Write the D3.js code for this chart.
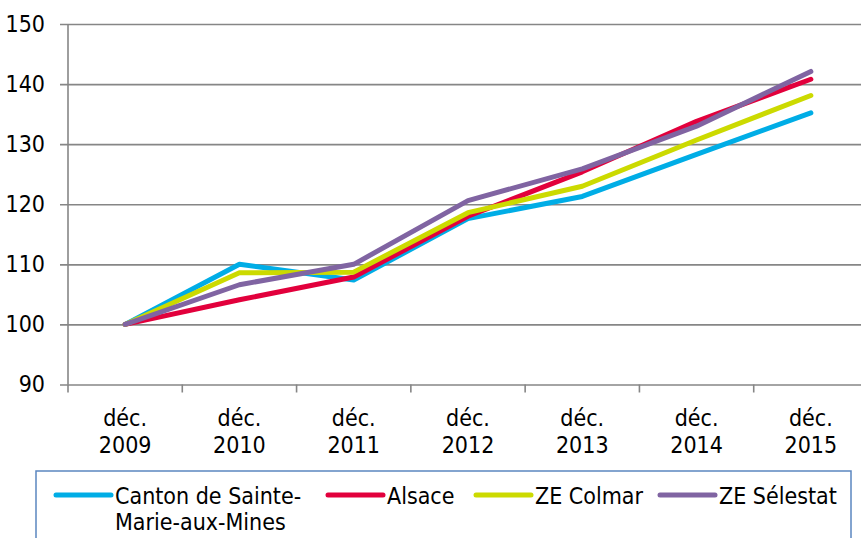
<!DOCTYPE html>
<html>
<head>
<meta charset="utf-8">
<script src="https://cdn.jsdelivr.net/npm/d3@7"></script>
<style>
  body { margin: 0; background: #fff; }
  text { font-family: "DejaVu Sans Condensed", "DejaVu Sans", sans-serif; fill: #000; }
</style>
</head>
<body>
<script>
// categories and series (index, base 100 = déc. 2009)
var months = ["déc.", "déc.", "déc.", "déc.", "déc.", "déc.", "déc."];
var years = ["2009", "2010", "2011", "2012", "2013", "2014", "2015"];
var canton = [100, 110.0, 107.4, 117.6, 121.3, 128.3, 135.2];
var alsace = [100, 104.1, 107.9, 118.0, 125.4, 133.8, 140.8];
var colmar = [100, 108.6, 108.7, 118.6, 123.0, 130.7, 138.1];
var selestat = [100, 106.6, 110.0, 120.6, 125.9, 133.0, 142.1];
var seriesNames = ["Canton de Sainte-|Marie-aux-Mines", "Alsace", "ZE Colmar", "ZE Sélestat"];
var yTicks = [90, 100, 110, 120, 130, 140, 150];

var colors = ["#00ADE6", "#E2003C", "#CCDA00", "#8064A2"];
var series = [canton, alsace, colmar, selestat];

var W = 861, H = 538;
var margin = {top: 24, left: 68},
    w = 800,
    h = 360.5;

var svg = d3.select("body").append("svg")
    .attr("width", W)
    .attr("height", H);

var x = d3.scaleBand().domain(years).range([margin.left, margin.left + w]).padding(0);
var y = d3.scaleLinear().domain([90, 150]).range([margin.top + h, margin.top]);

// gridlines + y labels
var yAxis = d3.axisLeft(y).tickValues(yTicks).tickSizeInner(-(w + 8)).tickSizeOuter(0).tickPadding(15);
var gy = svg.append("g")
    .attr("transform", "translate(" + (margin.left - 8) + ",0)")
    .call(yAxis);
gy.select(".domain").remove();
gy.selectAll("line").attr("stroke", "#868686").attr("stroke-width", 1.6);
gy.selectAll("text")
    .style("font-size", "23px")
    .style("font-family", "'DejaVu Sans Condensed', sans-serif")
    .attr("fill", "#000");

// vertical axis line
svg.append("line")
    .attr("x1", margin.left).attr("x2", margin.left)
    .attr("y1", margin.top).attr("y2", margin.top + h)
    .attr("stroke", "#868686").attr("stroke-width", 1.6);

// x tick marks at band boundaries
var bounds = years.map(function(d) { return x(d); });
svg.selectAll(".xtick")
    .data(bounds)
    .enter().append("line")
    .attr("class", "xtick")
    .attr("x1", function(d) { return d; })
    .attr("x2", function(d) { return d; })
    .attr("y1", margin.top + h)
    .attr("y2", margin.top + h + 8)
    .attr("stroke", "#868686").attr("stroke-width", 1.6);

// x labels (two lines)
var xl = svg.selectAll(".xlab")
    .data(years)
    .enter().append("text")
    .attr("class", "xlab")
    .attr("text-anchor", "middle")
    .style("font-size", "23px");
xl.append("tspan")
    .attr("x", function(d) { return x(d) + x.bandwidth() / 2; })
    .attr("y", 426)
    .text(function(d, i) { return months[i]; });
xl.append("tspan")
    .attr("x", function(d) { return x(d) + x.bandwidth() / 2; })
    .attr("y", 453)
    .text(function(d) { return d; });

// lines
var line = d3.line()
    .x(function(d, i) { return x(years[i]) + x.bandwidth() / 2; })
    .y(function(d) { return y(d); });

svg.selectAll(".serie")
    .data(series)
    .enter().append("path")
    .attr("class", "serie")
    .attr("d", line)
    .attr("fill", "none")
    .attr("stroke", function(d, i) { return colors[i]; })
    .attr("stroke-width", 5)
    .attr("stroke-linejoin", "round")
    .attr("stroke-linecap", "round");

// legend
svg.append("rect")
    .attr("x", 36).attr("y", 471)
    .attr("width", 815).attr("height", 100)
    .attr("fill", "none")
    .attr("stroke", "#5B86C0")
    .attr("stroke-width", 1.5);

var legendX = [56, 328, 476, 660];
var lg = svg.selectAll(".leg")
    .data(seriesNames)
    .enter().append("g")
    .attr("class", "leg")
    .attr("transform", function(d, i) { return "translate(" + legendX[i] + ",495)"; });

lg.append("line")
    .attr("x1", 0).attr("x2", 55)
    .attr("y1", 0).attr("y2", 0)
    .attr("stroke", function(d, i) { return colors[i]; })
    .attr("stroke-width", 5)
    .attr("stroke-linecap", "round");

lg.append("text")
    .style("font-size", "23px")
    .each(function(d) {
        var parts = d.split("|");
        var t = d3.select(this);
        parts.forEach(function(p, j) {
            t.append("tspan").attr("x", 59).attr("y", 9 + j * 26).text(p);
        });
    });
</script>
</body>
</html>
